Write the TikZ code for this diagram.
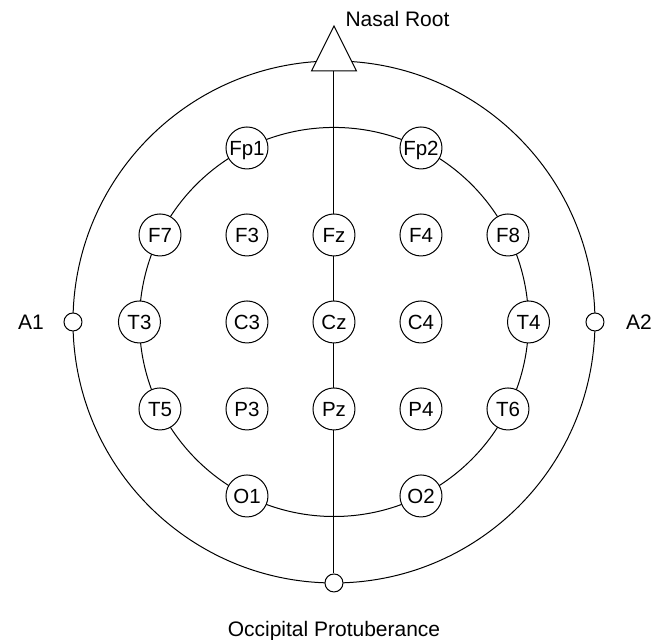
\documentclass[tikz,border=0pt]{standalone}
\usepackage{fontspec}
\setmainfont{Liberation Sans}
\begin{document}
\begin{tikzpicture}[x=87pt,y=87pt,line width=1pt,
  electrode/.style={circle,draw,fill=white,inner sep=0pt,minimum size=42pt,
    text height=14.6pt,text depth=0pt,font=\fontsize{20.5}{24}\selectfont},
  refpoint/.style={circle,draw,fill=white,inner sep=0pt,minimum size=18pt},
  caption/.style={font=\fontsize{21}{25}\selectfont,inner sep=0pt,anchor=base}]
\useasboundingbox (-3.839,-3.655) rectangle (3.782,3.701);
% head outline and electrode ring
\node[circle,draw,inner sep=0pt,minimum size=522pt] (head) at (0,0) {};
\draw (0,0) circle ({sqrt(5)});
% reference points on the head outline
\node[refpoint] (A1) at (-3,0) {};
\node[refpoint] (A2) at (3,0) {};
\node[refpoint] (OP) at (0,-3) {};
% nasion marker
\coordinate (NA) at (0,3.402);
\coordinate (NL) at (-0.259,2.885);
\coordinate (NR) at (0.259,2.885);
\coordinate (NB) at (0,2.885);
% midline
\draw (NB) -- (OP.north);
\draw[fill=white,line join=miter] (NA) -- (NR) -- (NL) -- cycle;
% electrodes
\foreach \name/\x/\y in {Fp1/-1/2, Fp2/1/2,
    F7/-2/1, F3/-1/1, Fz/0/1, F4/1/1, F8/2/1,
    C3/-1/0, Cz/0/0, C4/1/0,
    T5/-2/-1, P3/-1/-1, Pz/0/-1, P4/1/-1, T6/2/-1,
    O1/-1/-2, O2/1/-2}
  \node[electrode] (\name) at (\x,\y) {\name};
\node[electrode] (T3) at ({-sqrt(5)},0) {T3};
\node[electrode] (T4) at ({sqrt(5)},0) {T4};
% labels
\node[caption] (lA1) at (-3.483,-0.086) {A1};
\node[caption] (lA2) at (3.506,-0.086) {A2};
\node[caption] (lNA) at (0.73,3.391) {Nasal Root};
\node[caption] (lOP) at (0,-3.621) {Occipital Protuberance};
\end{tikzpicture}
\end{document}
